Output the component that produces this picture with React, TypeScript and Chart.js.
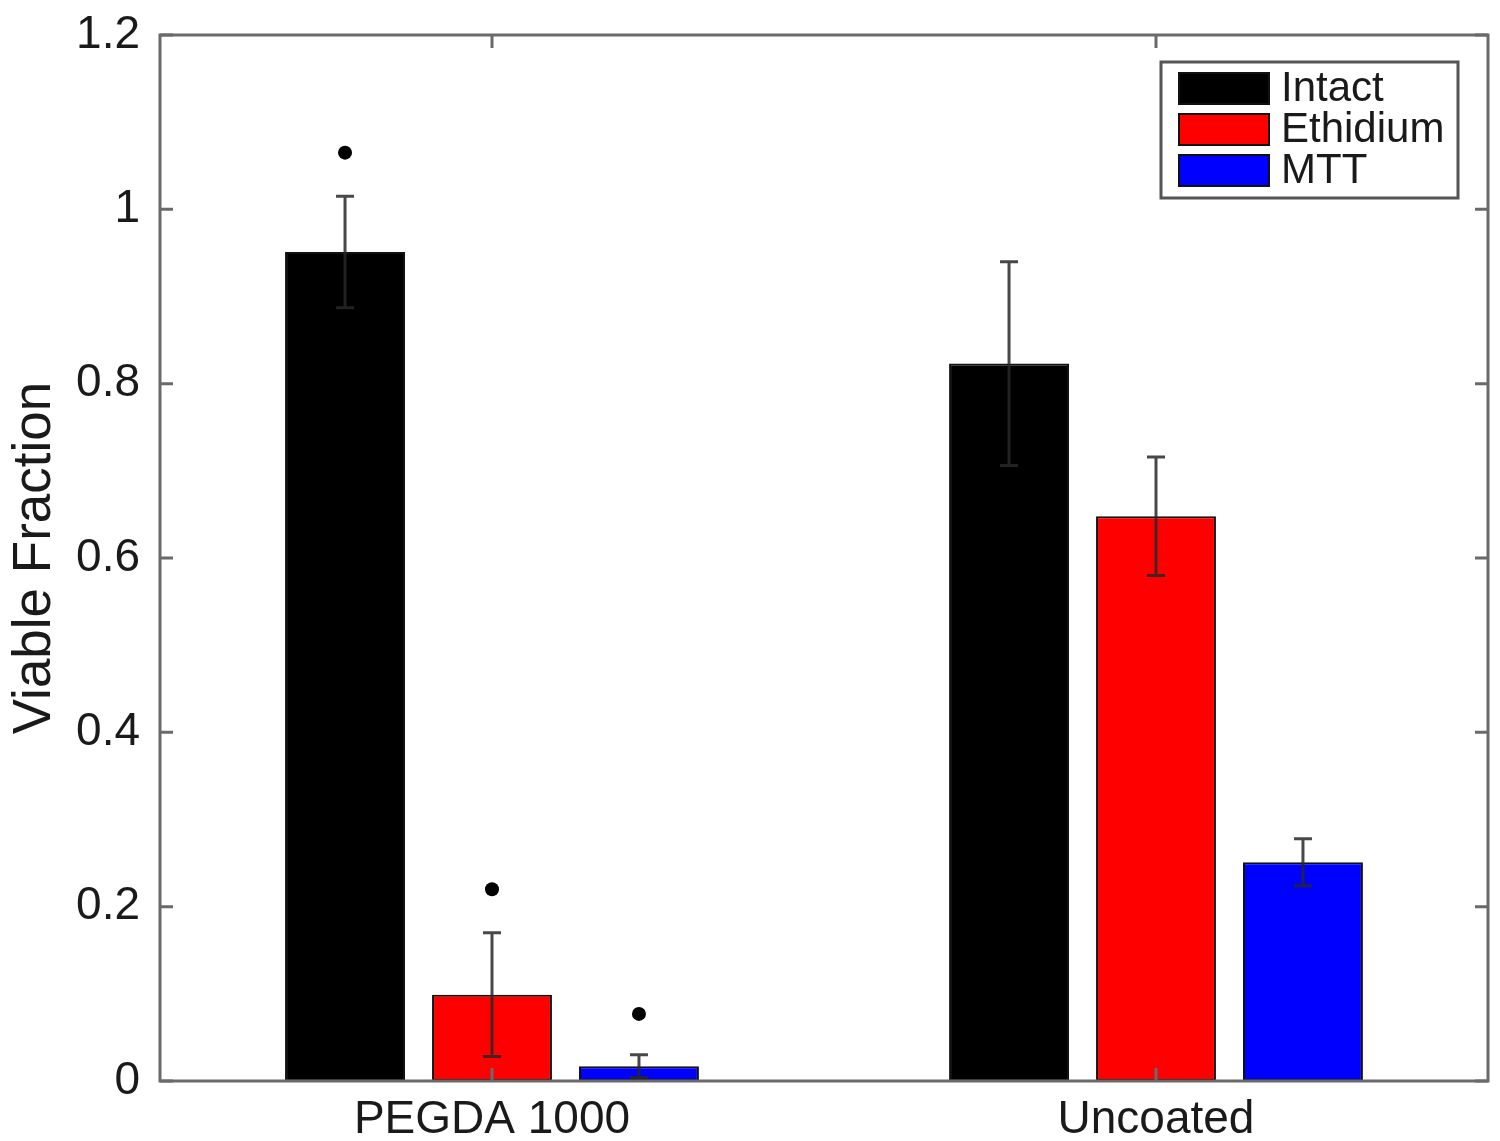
import React, { useEffect, useRef } from "react";
import { Chart, registerables } from "chart.js";

Chart.register(...registerables);

const categories = ["PEGDA 1000", "Uncoated"];
const seriesNames = ["Intact", "Ethidium", "MTT"];
const seriesColors = ["#000000", "#ff0000", "#0000ff"];
const intact = [0.951, 0.823];
const ethidium = [0.099, 0.648];
const mtt = [0.017, 0.251];
const intactErr = [0.064, 0.117];
const ethidiumErr = [0.071, 0.068];
const mttErr = [0.013, 0.027];
const intactStar: (number | null)[] = [1.065, null];
const ethidiumStar: (number | null)[] = [0.22, null];
const mttStar: (number | null)[] = [0.077, null];
const yTicks = [0, 0.2, 0.4, 0.6, 0.8, 1, 1.2];
const yTickLabels = ["0", "0.2", "0.4", "0.6", "0.8", "1", "1.2"];

const FONT = "'Liberation Sans', Arial, Helvetica, sans-serif";

const overlayPlugin = {
  id: "overlay",
  afterDatasetsDraw(chart: any) {
    const ctx = chart.ctx as CanvasRenderingContext2D;
    const y = chart.scales.y;
    const x = chart.scales.x;
    const area = chart.chartArea;
    const errs = [intactErr, ethidiumErr, mttErr];
    const vals = [intact, ethidium, mtt];
    const stars = [intactStar, ethidiumStar, mttStar];
    ctx.save();
    // error bars
    for (let d = 0; d < 3; d++) {
      const meta = chart.getDatasetMeta(d);
      meta.data.forEach((bar: any, i: number) => {
        const v = vals[d][i];
        const e = errs[d][i];
        const cx = bar.x;
        const yTop = y.getPixelForValue(v + e);
        const yBot = y.getPixelForValue(v - e);
        ctx.strokeStyle = "rgba(40,40,40,0.85)";
        ctx.lineWidth = 3;
        ctx.beginPath();
        ctx.moveTo(cx, yTop);
        ctx.lineTo(cx, yBot);
        ctx.moveTo(cx - 9, yTop);
        ctx.lineTo(cx + 9, yTop);
        ctx.moveTo(cx - 9, yBot);
        ctx.lineTo(cx + 9, yBot);
        ctx.stroke();
        const s = stars[d][i];
        if (s !== null && s !== undefined) {
          ctx.fillStyle = "#000";
          ctx.beginPath();
          ctx.arc(cx, y.getPixelForValue(s), 7, 0, Math.PI * 2);
          ctx.fill();
        }
      });
    }
    // frame
    ctx.strokeStyle = "#6a6a6a";
    ctx.lineWidth = 3;
    ctx.strokeRect(area.left, area.top, area.right - area.left, area.bottom - area.top);
    // ticks
    ctx.beginPath();
    yTicks.forEach((t) => {
      const py = y.getPixelForValue(t);
      ctx.moveTo(area.left, py);
      ctx.lineTo(area.left + 13, py);
      ctx.moveTo(area.right, py);
      ctx.lineTo(area.right - 13, py);
    });
    categories.forEach((_c, i) => {
      const px = x.getPixelForValue(i);
      ctx.moveTo(px, area.top);
      ctx.lineTo(px, area.top + 13);
      ctx.moveTo(px, area.bottom);
      ctx.lineTo(px, area.bottom - 13);
    });
    ctx.stroke();
    // legend
    const lx = 1153, ly = 54, lw = 297, lh = 136;
    ctx.fillStyle = "#fff";
    ctx.fillRect(lx, ly, lw, lh);
    ctx.strokeStyle = "#555";
    ctx.lineWidth = 3;
    ctx.strokeRect(lx, ly, lw, lh);
    ctx.font = `42px ${FONT}`;
    ctx.textBaseline = "middle";
    ctx.textAlign = "left";
    seriesNames.forEach((n, i) => {
      const ry = ly + 11 + i * 41;
      ctx.fillStyle = seriesColors[i];
      ctx.fillRect(lx + 18, ry, 90, 31);
      ctx.strokeStyle = "#111";
      ctx.lineWidth = 2;
      ctx.strokeRect(lx + 18, ry, 90, 31);
      ctx.fillStyle = "#1a1a1a";
      ctx.fillText(n, lx + 120, ry + 16);
    });
    ctx.restore();
  },
};

export default function App() {
  const ref = useRef<HTMLCanvasElement | null>(null);
  useEffect(() => {
    if (!ref.current) return;
    const mk = (i: number, data: number[]) => ({
      label: seriesNames[i],
      data,
      backgroundColor: seriesColors[i],
      borderColor: "#111",
      borderWidth: 2,
      borderSkipped: false,
      categoryPercentage: 0.664,
      barPercentage: 0.816,
    });
    const chart = new Chart(ref.current, {
      type: "bar",
      data: {
        labels: categories,
        datasets: [mk(0, intact), mk(1, ethidium), mk(2, mtt)],
      },
      options: {
        responsive: false,
        animation: false,
        devicePixelRatio: 1,
        layout: { padding: { top: 27, right: 4, left: 0, bottom: 0 } },
        plugins: { legend: { display: false }, tooltip: { enabled: false } },
        scales: {
          x: {
            grid: { display: false, drawTicks: false },
            border: { display: false },
            ticks: {
              font: { size: 46, family: FONT },
              color: "#1a1a1a",
              padding: 12,
              maxRotation: 0,
            },
            afterFit: (s: any) => {
              s.height = 52;
              s.paddingLeft = 0;
              s.paddingRight = 0;
            },
          },
          y: {
            min: 0,
            max: 1.2,
            grid: { display: false, drawTicks: false },
            border: { display: false },
            afterBuildTicks: (s: any) => {
              s.ticks = yTicks.map((v) => ({ value: v }));
            },
            ticks: {
              font: { size: 46, family: FONT },
              color: "#1a1a1a",
              padding: 20,
              callback: (v: any) => {
                const idx = yTicks.findIndex((t) => Math.abs(t - Number(v)) < 1e-9);
                return idx >= 0 ? yTickLabels[idx] : "";
              },
            },
            title: {
              display: true,
              text: "Viable Fraction",
              font: { size: 53, family: FONT, lineHeight: 1 },
              color: "#1a1a1a",
              padding: { top: 1, bottom: 0 },
            },
            afterFit: (s: any) => {
              s.width = 152;
              s.paddingTop = 0;
              s.paddingBottom = 0;
            },
          },
        },
      },
      plugins: [overlayPlugin],
    });
    return () => chart.destroy();
  }, []);
  return (
    <div style={{ width: 1484, height: 1125 }}>
      <canvas ref={ref} width={1484} height={1125} style={{ display: "block" }} />
    </div>
  );
}
